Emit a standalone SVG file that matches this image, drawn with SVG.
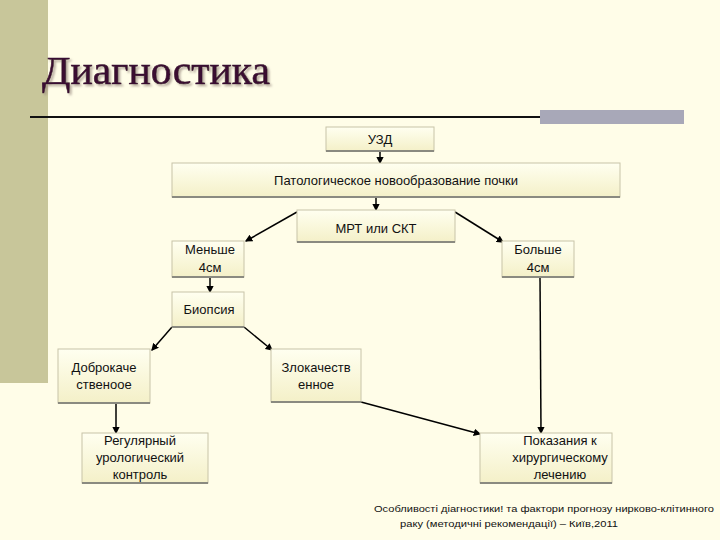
<svg xmlns="http://www.w3.org/2000/svg" width="720" height="540" viewBox="0 0 720 540">
<defs>
<linearGradient id="g" x1="0" y1="0" x2="0" y2="1"><stop offset="0" stop-color="#fffff0"/><stop offset="1" stop-color="#f4f0c8"/></linearGradient>
<marker id="a" viewBox="0 0 6 6" refX="5" refY="3" markerWidth="5" markerHeight="5" orient="auto"><path d="M0,0L6,3L0,6z" fill="#000"/></marker>
<filter id="sh" x="-5%" y="-20%" width="110%" height="140%"><feDropShadow dx="2" dy="2" stdDeviation="0.8" flood-color="#9a8a80" flood-opacity="0.7"/></filter>
</defs>
<style>
.b{fill:url(#g);stroke:#c8c4a8;stroke-width:1}
.s{stroke:#8a8a80;stroke-width:2}
.t{font-family:"Liberation Sans",Arial,sans-serif;font-size:13px;fill:#111;text-anchor:middle}
.f{font-family:"Liberation Sans",Arial,sans-serif;font-size:9.5px;fill:#111}
.c line{stroke:#000;stroke-width:1.5;marker-end:url(#a)}
</style>
<rect width="720" height="540" fill="#fffde8"/>
<rect x="0" y="0" width="48" height="383" fill="#c8c69a"/>
<text x="42" y="84" font-family="Liberation Serif,serif" font-size="40" fill="#3a1030" stroke="#3a1030" stroke-width="0.6" textLength="228" lengthAdjust="spacingAndGlyphs" filter="url(#sh)">Диагностика</text>
<line x1="30" y1="117" x2="540" y2="117" stroke="#111" stroke-width="2"/>
<rect x="540" y="110" width="144" height="14" fill="#a8a8b8"/>
<g class="c">
<line x1="380" y1="151" x2="380" y2="163"/>
<line x1="376" y1="197" x2="376" y2="210"/>
<line x1="297" y1="212" x2="246" y2="241"/>
<line x1="455" y1="212" x2="503" y2="242"/>
<line x1="210" y1="277" x2="210" y2="292"/>
<line x1="172" y1="327" x2="152" y2="350"/>
<line x1="244" y1="327" x2="272" y2="350"/>
<line x1="116" y1="403" x2="116" y2="433"/>
<line x1="540" y1="277" x2="541" y2="433"/>
<line x1="361" y1="402" x2="480" y2="434"/>
</g>
<g id="n1"><rect class="b" x="326" y="127" width="108" height="24"/><line class="s" x1="326" y1="151" x2="434" y2="151"/><text class="t" x="380" y="144">УЗД</text></g>
<g id="n2"><rect class="b" x="172" y="163" width="448" height="34"/><line class="s" x1="172" y1="197" x2="620" y2="197"/><text class="t" x="396" y="185">Патологическое новообразование почки</text></g>
<g id="n3"><rect class="b" x="297" y="210" width="158" height="32"/><line class="s" x1="297" y1="242" x2="455" y2="242"/><text class="t" x="376" y="233" font-size="17">МРТ или СКТ</text></g>
<g id="n4"><rect class="b" x="172" y="241" width="72" height="36"/><line class="s" x1="172" y1="277" x2="244" y2="277"/><text class="t" x="210" y="254">Меньше</text><text class="t" x="210" y="272">4см</text></g>
<g id="n5"><rect class="b" x="502" y="241" width="72" height="36"/><line class="s" x1="502" y1="277" x2="574" y2="277"/><text class="t" x="538" y="254">Больше</text><text class="t" x="538" y="272">4см</text></g>
<g id="n6"><rect class="b" x="172" y="292" width="72" height="35"/><line class="s" x1="172" y1="327" x2="244" y2="327"/><text class="t" x="209" y="314">Биопсия</text></g>
<g id="n7"><rect class="b" x="58" y="349" width="92" height="54"/><line class="s" x1="58" y1="403" x2="150" y2="403"/><text class="t" x="104" y="372">Доброкаче</text><text class="t" x="104" y="389">ственоое</text></g>
<g id="n8"><rect class="b" x="271" y="349" width="90" height="53"/><line class="s" x1="271" y1="402" x2="361" y2="402"/><text class="t" x="316" y="372">Злокачеств</text><text class="t" x="316" y="389">енное</text></g>
<g id="n9"><rect class="b" x="82" y="433" width="126" height="50"/><line class="s" x1="82" y1="483" x2="208" y2="483"/><text class="t" x="140" y="445">Регулярный</text><text class="t" x="140" y="462">урологический</text><text class="t" x="140" y="479">контроль</text></g>
<g id="n10"><rect class="b" x="480" y="433" width="132" height="50"/><line class="s" x1="480" y1="483" x2="612" y2="483"/><text class="t" x="560" y="445">Показания к</text><text class="t" x="560" y="462">хирургическому</text><text class="t" x="560" y="479">лечению</text></g>
<text class="f" x="374" y="512" textLength="340" lengthAdjust="spacingAndGlyphs">Особливості діагностики! та фактори прогнозу нирково-клітинного</text>
<text class="f" x="400" y="527" textLength="218" lengthAdjust="spacingAndGlyphs">раку (методичні рекомендації) – Київ,2011</text>
</svg>
